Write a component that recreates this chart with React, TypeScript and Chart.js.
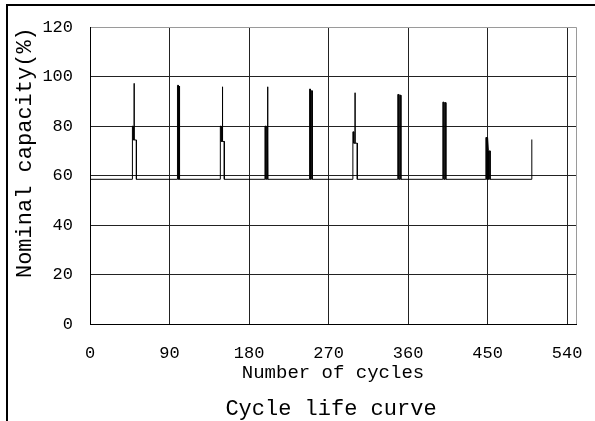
import React, { useEffect, useRef } from "react";
import { Chart, registerables } from "chart.js";

Chart.register(...registerables);

// ---- data ----
const xTickValues = [0, 90, 180, 270, 360, 450, 540];
const xMax = 550;
const yTickValues = [0, 20, 40, 60, 80, 100, 120];

// polyline vertices of the capacity trace (cycle number, capacity %)
const cycles = [
  0,
  48, 48, 49, 49, 50, 50, 50, 52.5, 52.5,
  99, 99, 100, 100, 101, 101, 101.5, 101.5,
  147.5, 147.5, 148.5, 148.5, 150, 150, 150, 152, 152,
  198, 198, 199, 199, 200, 200, 200.8, 200.8, 201.3, 201.3,
  248.5, 248.5, 249.5, 249.5, 250.5, 250.5, 251.5, 251.5,
  297.5, 297.5, 298.5, 298.5, 300, 300, 300, 302.5, 302.5,
  348.3, 348.3, 349.5, 349.5, 350.7, 350.7, 351.8, 351.8,
  399.3, 399.3, 400.5, 400.5, 401.7, 401.7, 402.7, 402.7,
  448, 448, 449, 449, 449.9, 449.9, 450.9, 450.9, 451.9, 451.9, 452.8, 452.8,
  500, 500,
];
const capacity = [
  58.5,
  58.5, 80, 80, 74.4, 74.4, 97.3, 74.4, 74.4, 58.5,
  58.5, 96.5, 96.5, 58.5, 58.5, 96.2, 96.2, 58.5,
  58.5, 80, 80, 73.8, 73.8, 95.9, 73.8, 73.8, 58.5,
  58.5, 80, 80, 58.5, 58.5, 80, 80, 95.9, 95.9, 58.5,
  58.5, 95, 95, 58.5, 58.5, 94.3, 94.3, 58.5,
  58.5, 77.7, 77.7, 73.1, 73.1, 93.5, 73.1, 73.1, 58.5,
  58.5, 92.8, 92.8, 58.5, 58.5, 92.5, 92.5, 58.5,
  58.5, 89.7, 89.7, 58.5, 58.5, 89.5, 89.5, 58.5,
  58.5, 75.4, 75.4, 58.5, 58.5, 75.4, 70, 58.5, 58.5, 70, 70, 58.5,
  58.5, 74.6,
];

const xTitle = "Number of cycles";
const yTitle = "Nominal capacity(%)";
const subtitleText = "Cycle life curve";

const FONT = "'Liberation Mono', 'DejaVu Sans Mono', monospace";

const subtitlePlugin = {
  id: "bottomSubtitle",
  afterDraw(chart: any) {
    const { ctx, chartArea } = chart;
    ctx.save();
    ctx.font = `22px ${FONT}`;
    ctx.fillStyle = "#000";
    ctx.textAlign = "center";
    ctx.textBaseline = "middle";
    ctx.fillText(subtitleText, (chartArea.left + chartArea.right) / 2 - 2, 409);
    ctx.restore();
  },
};

export default function App() {
  const canvasRef = useRef<HTMLCanvasElement | null>(null);

  useEffect(() => {
    if (!canvasRef.current) return;
    const chart = new Chart(canvasRef.current, {
      type: "scatter",
      data: {
        datasets: [
          {
            data: cycles.map((x, i) => ({ x, y: capacity[i] })),
            showLine: true,
            borderColor: "#000",
            borderWidth: 1,
            pointRadius: 0,
            pointHoverRadius: 0,
            tension: 0,
          },
        ],
      },
      options: {
        animation: false,
        responsive: false,
        layout: { padding: { left: 0, top: 22, right: 15, bottom: 0 } },
        plugins: {
          legend: { display: false },
          tooltip: { enabled: false },
        },
        scales: {
          x: {
            type: "linear",
            min: 0,
            max: xMax,
            afterBuildTicks: (s: any) => {
              s.ticks = [...xTickValues, xMax].map((v) => ({ value: v }));
            },
            afterFit: (s: any) => {
              s.height = 97;
            },
            grid: {
              drawTicks: false,
              lineWidth: 1,
              color: (ctx: any) =>
                ctx.tick && ctx.tick.value === xMax ? "#9a9a9a" : "#222",
            },
            border: { color: "#000", width: 1 },
            ticks: {
              autoSkip: false,
              maxRotation: 0,
              padding: 19,
              color: "#000",
              font: { family: FONT, size: 17 },
              callback: (v: any) => (v === xMax ? "" : String(v)),
            },
            title: {
              display: true,
              text: xTitle,
              color: "#000",
              font: { family: FONT, size: 19 },
              padding: { top: 0, bottom: 37 },
            },
          },
          y: {
            type: "linear",
            min: 0,
            max: 120,
            afterBuildTicks: (s: any) => {
              s.ticks = yTickValues.map((v) => ({ value: v }));
            },
            afterFit: (s: any) => {
              s.width = 90;
            },
            grid: {
              drawTicks: false,
              lineWidth: 1,
              color: (ctx: any) =>
                ctx.tick && ctx.tick.value === 120 ? "#9a9a9a" : "#222",
            },
            border: { color: "#000", width: 1 },
            ticks: {
              padding: 17,
              color: "#000",
              font: { family: FONT, size: 17 },
            },
            title: {
              display: true,
              text: yTitle,
              align: "end",
              color: "#000",
              font: { family: FONT, size: 22 },
              padding: { top: 12, bottom: 0 },
            },
          },
        },
      },
      plugins: [subtitlePlugin],
    } as any);
    return () => chart.destroy();
  }, []);

  return (
    <div
      style={{
        position: "absolute",
        left: 0,
        top: 0,
        width: 595,
        height: 421,
        background: "#fff",
        overflow: "hidden",
      }}
    >
      <canvas
        ref={canvasRef}
        width={595}
        height={421}
        style={{ position: "absolute", left: 0, top: 0, width: 595, height: 421 }}
      />
      <div
        style={{
          position: "absolute",
          left: 6,
          top: 4,
          width: 600,
          height: 430,
          borderTop: "2px solid #000",
          borderLeft: "2px solid #000",
          pointerEvents: "none",
        }}
      />
    </div>
  );
}
